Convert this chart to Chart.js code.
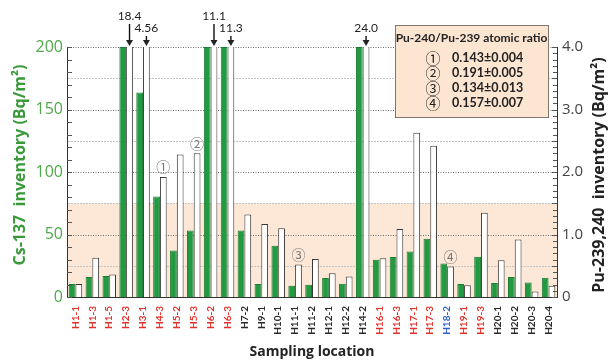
<!DOCTYPE html>
<html>
<head>
<meta charset="utf-8">
<script src="https://cdn.jsdelivr.net/npm/chart.js@4.4.1/dist/chart.umd.min.js"></script>
<style>
  html, body { margin: 0; padding: 0; background: #fff; }
  #wrap { width: 608px; height: 361px; }
</style>
</head>
<body>
<div id="wrap"><canvas id="c" width="608" height="361"></canvas></div>
<script>
// Sampling locations along the x axis
const locations = [
  'H1-1', 'H1-3', 'H1-5', 'H2-3', 'H3-1', 'H4-3', 'H5-2', 'H5-3', 'H6-2', 'H6-3',
  'H7-2', 'H9-1', 'H10-1', 'H11-1', 'H11-2', 'H12-1', 'H12-2', 'H14-2',
  'H16-1', 'H16-3', 'H17-1', 'H17-3', 'H18-2', 'H19-1', 'H19-3',
  'H20-1', 'H20-2', 'H20-3', 'H20-4'
];
// Label group of each location: r = red, k = black, b = blue
const locationGroups = [
  'r', 'r', 'r', 'r', 'r', 'r', 'r', 'r', 'r', 'r',
  'k', 'k', 'k', 'k', 'k', 'k', 'k', 'k',
  'r', 'r', 'r', 'r', 'b', 'r', 'r',
  'k', 'k', 'k', 'k'
];
// Cs-137 inventory, Bq/m2 (values of 200 run past the top of the axis)
const cs137 = [
  10.4, 16.0, 16.8, 200, 163.7, 80.5, 37.3, 53.3, 200, 200,
  53.3, 10.4, 41.1, 9.1, 9.9, 15.2, 10.7, 200,
  29.9, 32.0, 36.5, 46.7, 26.9, 10.4, 32.3,
  11.2, 16.0, 11.7, 15.4
];
// Pu-239,240 inventory, Bq/m2
const pu239240 = [
  0.21, 0.63, 0.36, 18.4, 4.56, 1.92, 2.28, 2.30, 11.1, 11.3,
  1.32, 1.17, 1.10, 0.52, 0.61, 0.38, 0.33, 24.0,
  0.62, 1.09, 2.63, 2.42, 0.49, 0.19, 1.35,
  0.59, 0.92, 0.09, 0.18
];
// Pu-240/Pu-239 atomic ratio, marked above these locations
const ratioSites = ['H4-3', 'H5-3', 'H11-1', 'H18-2'];
const ratioSymbols = ['\u2460', '\u2461', '\u2462', '\u2463'];
const ratioValues = ['0.143\u00b10.004', '0.191\u00b10.005', '0.134\u00b10.013', '0.157\u00b10.007'];
// Tick values of the two y axes
const csTicks = [0, 50, 100, 150, 200];
const puTicks = [0, 1, 2, 3, 4];
// Upper edge of the shaded Cs-137 band
const bandTop = 75;

const groupColors = { r: '#e2332b', k: '#2a2a2a', b: '#2f62c8' };
const FONT = 'Lato, "Noto Sans", "Noto Sans CJK JP", sans-serif';
const TITLE_FONT = '"Open Sans", "Noto Sans", sans-serif';

const decorations = {
  id: 'decorations',
  beforeDraw(chart) {
    const { ctx, chartArea: a, scales } = chart;
    ctx.save();
    ctx.fillStyle = '#ffffff';
    ctx.fillRect(0, 0, chart.width, chart.height);
    const yb = scales.y.getPixelForValue(bandTop);
    ctx.fillStyle = '#fde8d7';
    ctx.fillRect(a.left, yb, a.right - a.left, a.bottom - yb);
    ctx.restore();
  },
  beforeDatasetsDraw(chart) {
    const { ctx, chartArea: a, scales } = chart;
    ctx.save();
    for (let v = 25; v <= 200; v += 25) {
      const y = Math.round(scales.y.getPixelForValue(v)) + 0.5;
      const major = v % 50 === 0;
      ctx.strokeStyle = major ? '#6d6d6d' : '#c4c4c4';
      ctx.lineWidth = 1;
      ctx.setLineDash(major ? [1, 1.5] : [2, 1]);
      ctx.beginPath();
      ctx.moveTo(a.left + 1, y);
      ctx.lineTo(a.right - 1, y);
      ctx.stroke();
    }
    ctx.restore();
  },
  afterDatasetsDraw(chart) {
    const { ctx, chartArea: a, scales } = chart;
    const ys = scales.y, yr = scales.y1;
    ctx.save();
    // inward minor ticks
    ctx.strokeStyle = '#555';
    ctx.lineWidth = 1;
    for (let v = 0; v <= 200; v += 10) {
      const y = Math.round(ys.getPixelForValue(v)) + 0.5;
      ctx.beginPath(); ctx.moveTo(a.left, y); ctx.lineTo(a.left + 5, y); ctx.stroke();
    }
    for (let i = 0; i <= 40; i++) {
      const y = Math.round(yr.getPixelForValue(i / 10)) + 0.5;
      ctx.beginPath(); ctx.moveTo(a.right, y); ctx.lineTo(a.right - (i % 5 === 0 ? 5 : 4), y); ctx.stroke();
    }

    const puMeta = chart.getDatasetMeta(1);
    // values beyond the right axis: arrow with the value
    let prevOff = false;
    pu239240.forEach((v, i) => {
      const off = v > yr.max;
      if (off) {
        const x = puMeta.data[i].x;
        const low = prevOff || locations[i] === 'H14-2';
        const ty = low ? 28 : 16;
        ctx.fillStyle = '#222';
        ctx.font = '12px ' + FONT;
        ctx.textAlign = 'center';
        ctx.textBaseline = 'middle';
        ctx.fillText(v >= 10 ? v.toFixed(1) : v.toFixed(2), x, ty);
        ctx.strokeStyle = '#111';
        ctx.lineWidth = 1.4;
        ctx.beginPath(); ctx.moveTo(x, ty + 8); ctx.lineTo(x, a.top - 4); ctx.stroke();
        ctx.beginPath();
        ctx.moveTo(x - 3.5, a.top - 7); ctx.lineTo(x + 3.5, a.top - 7); ctx.lineTo(x, a.top - 1);
        ctx.closePath(); ctx.fill();
      }
      prevOff = off;
    });

    // ratio markers above bars
    ctx.fillStyle = '#777';
    ctx.font = '14px "Noto Sans CJK JP", ' + FONT;
    ctx.textAlign = 'center';
    ctx.textBaseline = 'middle';
    ratioSites.forEach((s, k) => {
      const i = locations.indexOf(s);
      const el = puMeta.data[i];
      ctx.fillText(ratioSymbols[k], el.x, el.y - 10);
    });

    // ratio box
    const bx = 395, by = 25, bw = 153, bh = 92;
    ctx.fillStyle = '#fce6d2';
    ctx.fillRect(bx, by, bw, bh);
    ctx.strokeStyle = '#7f766e';
    ctx.lineWidth = 1;
    ctx.strokeRect(bx + 0.5, by + 0.5, bw, bh);
    ctx.fillStyle = '#222';
    ctx.font = 'bold 12px ' + FONT;
    ctx.textAlign = 'center';
    ctx.fillText('Pu-240/Pu-239 atomic ratio', bx + bw / 2, 38);
    const rowY = [58, 73, 88, 103];
    ratioValues.forEach((t, k) => {
      ctx.fillStyle = '#222';
      ctx.font = '15px "Noto Sans CJK JP", ' + FONT;
      ctx.textAlign = 'center';
      ctx.fillText(ratioSymbols[k], 433, rowY[k]);
      ctx.font = 'bold 12.5px ' + FONT;
      ctx.textAlign = 'left';
      ctx.fillText(t, 452, rowY[k]);
    });

    // axis titles
    ctx.font = 'bold 16px ' + TITLE_FONT;
    ctx.textAlign = 'center';
    ctx.textBaseline = 'middle';
    ctx.save();
    ctx.translate(20, 165);
    ctx.rotate(-Math.PI / 2);
    ctx.fillStyle = '#3a9a3a';
    ctx.fillText('Cs-137  inventory (Bq/m\u00b2)', 0, 0);
    ctx.restore();
    ctx.save();
    ctx.translate(599, 175);
    ctx.rotate(-Math.PI / 2);
    ctx.fillStyle = '#222';
    ctx.fillText('Pu-239,240  inventory (Bq/m\u00b2)', 0, 0);
    ctx.restore();
    ctx.fillStyle = '#222';
    ctx.font = 'bold 14px ' + TITLE_FONT;
    ctx.fillText('Sampling location', 312, 352);
    ctx.restore();
  }
};

new Chart(document.getElementById('c'), {
  type: 'bar',
  data: {
    labels: locations,
    datasets: [
      {
        label: 'Cs-137', data: cs137, yAxisID: 'y',
        backgroundColor: '#229a41', borderColor: '#1b7d34', borderWidth: 1,
        barPercentage: 1, categoryPercentage: 0.8, clip: 0
      },
      {
        label: 'Pu-239,240', data: pu239240, yAxisID: 'y1',
        backgroundColor: '#ffffff', borderColor: '#3a3a3a', borderWidth: 1,
        barPercentage: 1, categoryPercentage: 0.8, clip: 0
      }
    ]
  },
  options: {
    responsive: false,
    animation: false,
    layout: { padding: { top: 47, left: 0, right: 0, bottom: 0 } },
    plugins: { legend: { display: false }, tooltip: { enabled: false } },
    scales: {
      x: {
        grid: { display: false, drawTicks: false },
        border: { color: '#333', width: 1 },
        ticks: {
          autoSkip: false, maxRotation: 90, minRotation: 90, padding: 9,
          font: { family: FONT, size: 10, weight: 'bold' },
          color: (c) => groupColors[locationGroups[c.index]]
        },
        afterFit: (s) => { s.height = 64; }
      },
      y: {
        position: 'left', min: 0, max: 200,
        afterBuildTicks: (s) => { s.ticks = csTicks.map(v => ({ value: v })); },
        ticks: { color: '#4fa94a', font: { family: TITLE_FONT, size: 16 }, padding: 4 },
        grid: { display: false, drawTicks: false },
        border: { color: '#333', width: 1 },
        afterFit: (s) => { s.width = 67; }
      },
      y1: {
        position: 'right', min: 0, max: 4,
        afterBuildTicks: (s) => { s.ticks = puTicks.map(v => ({ value: v })); },
        ticks: {
          color: '#444', font: { family: TITLE_FONT, size: 15 }, padding: 5,
          callback: (v) => v === 0 ? '0' : Number(v).toFixed(1)
        },
        grid: { display: false, drawTicks: false },
        border: { color: '#333', width: 1 },
        afterFit: (s) => { s.width = 51; }
      }
    }
  },
  plugins: [decorations]
});
</script>
</body>
</html>
